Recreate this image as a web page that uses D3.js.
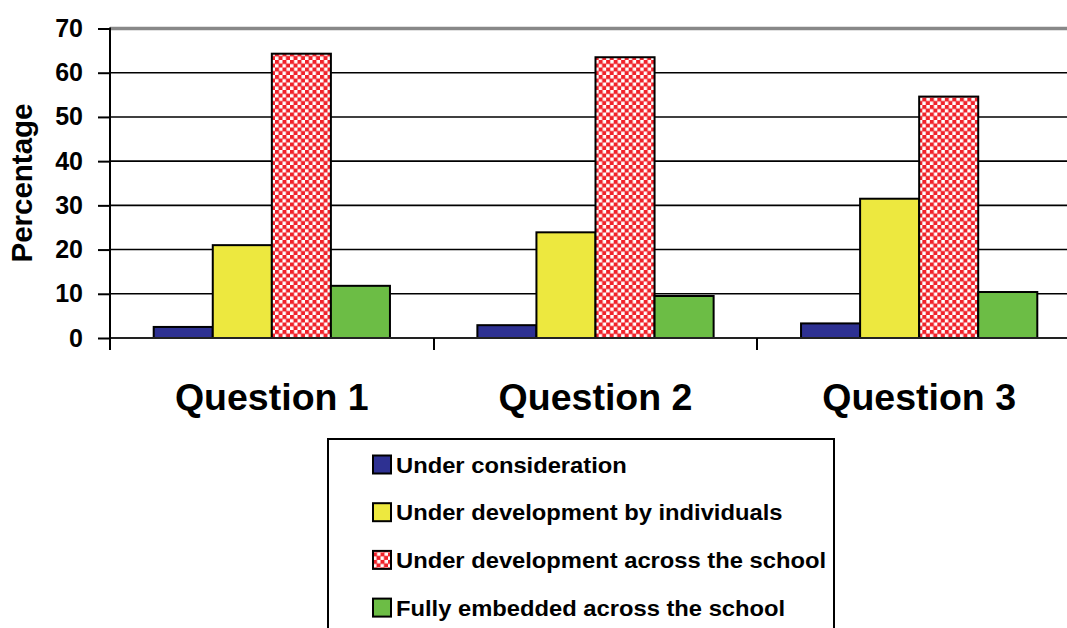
<!DOCTYPE html>
<html>
<head>
<meta charset="utf-8">
<script src="https://cdn.jsdelivr.net/npm/d3@7"></script>
<style>
  html, body { margin: 0; padding: 0; background: #fff; overflow: hidden; }
  svg { display: block; font-family: "Liberation Sans", Arial, sans-serif; }
</style>
</head>
<body>
<svg id="chart" width="1067" height="628"></svg>
<script>
// Survey responses, percentage per question
const categories = ["Question 1", "Question 2", "Question 3"];
const seriesNames = [
  "Under consideration",
  "Under development by individuals",
  "Under development across the school",
  "Fully embedded across the school"
];
const underConsideration = [2.5, 2.9, 3.3];
const underDevIndividuals = [21.0, 23.9, 31.5];
const underDevSchool = [64.3, 63.5, 54.6];
const fullyEmbedded = [11.8, 9.5, 10.4];
const yTicks = [0, 10, 20, 30, 40, 50, 60, 70];

const seriesValues = [underConsideration, underDevIndividuals, underDevSchool, fullyEmbedded];
const fills = ["#2e3192", "#ede83f", "url(#checker)", "#6cbd45"];

const svg = d3.select("#chart");

// Red/white checkerboard fill
const defs = svg.append("defs");
const cell = 3.75;
const pat = defs.append("pattern")
  .attr("id", "checker")
  .attr("patternUnits", "userSpaceOnUse")
  .attr("width", cell * 2).attr("height", cell * 2);
pat.append("rect").attr("width", cell * 2).attr("height", cell * 2).attr("fill", "#fff");
pat.append("rect").attr("x", -0.3).attr("y", -0.3).attr("width", cell + 0.6).attr("height", cell + 0.6).attr("fill", "#f0222a");
pat.append("rect").attr("x", cell - 0.3).attr("y", cell - 0.3).attr("width", cell + 0.6).attr("height", cell + 0.6).attr("fill", "#f0222a");

const plot = { left: 110, top: 28.5, bottom: 338, right: 1081 };

const x = d3.scaleBand().domain(categories).range([plot.left, plot.right]);
const inner = d3.scaleBand().domain(seriesNames).range([0, x.bandwidth()]).paddingOuter(0.74).paddingInner(0);
const y = d3.scaleLinear().domain([0, 70]).range([plot.bottom, plot.top]);

// Horizontal gridlines
svg.append("g").selectAll("line")
  .data(yTicks.filter(t => t > 0 && t < 70))
  .join("line")
  .attr("x1", plot.left).attr("x2", 1067)
  .attr("y1", d => y(d)).attr("y2", d => y(d))
  .attr("stroke", "#000").attr("stroke-width", 1.6);

// Top border of plot area
svg.append("line")
  .attr("x1", plot.left).attr("x2", 1067)
  .attr("y1", y(70)).attr("y2", y(70))
  .attr("stroke", "#888").attr("stroke-width", 3.5);

// Bars
const groups = svg.append("g").selectAll("g")
  .data(categories)
  .join("g")
  .attr("transform", d => `translate(${x(d)},0)`);

groups.selectAll("rect")
  .data((c, ci) => seriesNames.map((s, si) => ({ s, si, v: seriesValues[si][ci] })))
  .join("rect")
  .attr("x", d => inner(d.s))
  .attr("width", inner.bandwidth())
  .attr("y", d => y(d.v))
  .attr("height", d => y(0) - y(d.v))
  .attr("fill", d => fills[d.si])
  .attr("stroke", "#000")
  .attr("stroke-width", 2);

// Baseline
svg.append("line")
  .attr("x1", plot.left).attr("x2", 1067)
  .attr("y1", y(0)).attr("y2", y(0))
  .attr("stroke", "#222").attr("stroke-width", 2);

// Y axis
const yAxis = svg.append("g")
  .attr("transform", `translate(${plot.left},0)`)
  .call(d3.axisLeft(y).tickValues(yTicks).tickSize(12).tickPadding(15));
yAxis.select(".domain").remove();
yAxis.selectAll(".tick line").attr("stroke", "#000").attr("stroke-width", 2);
yAxis.selectAll("text")
  .attr("fill", "#000")
  .attr("font-size", 25)
  .attr("font-weight", "bold")
  .attr("font-family", "'Liberation Sans', Arial, sans-serif");
svg.append("line")
  .attr("x1", plot.left).attr("x2", plot.left)
  .attr("y1", plot.top - 1).attr("y2", 350)
  .attr("stroke", "#000").attr("stroke-width", 2);

// Category tick marks between groups
svg.append("g").selectAll("line")
  .data(categories.slice(1))
  .join("line")
  .attr("x1", d => Math.round(x(d))).attr("x2", d => Math.round(x(d)))
  .attr("y1", y(0)).attr("y2", 350)
  .attr("stroke", "#000").attr("stroke-width", 2);

// Category labels
svg.append("g").selectAll("text")
  .data(categories)
  .join("text")
  .attr("x", d => x(d) + x.bandwidth() / 2)
  .attr("y", 410)
  .attr("text-anchor", "middle")
  .attr("font-size", 37.5)
  .attr("font-weight", "bold")
  .attr("fill", "#000")
  .text(d => d);

// Y axis title
svg.append("text")
  .attr("transform", "translate(32,183) rotate(-90)")
  .attr("text-anchor", "middle")
  .attr("font-size", 29.5)
  .attr("font-weight", "bold")
  .attr("fill", "#000")
  .text("Percentage");

// Legend
const legend = svg.append("g");
legend.append("rect")
  .attr("x", 328).attr("y", 439)
  .attr("width", 506).attr("height", 200)
  .attr("fill", "#fff").attr("stroke", "#000").attr("stroke-width", 2);

const rows = legend.selectAll("g.item")
  .data(seriesNames)
  .join("g")
  .attr("class", "item")
  .attr("transform", (d, i) => `translate(373,${464.5 + i * 47.7})`);
rows.append("rect")
  .attr("x", 0).attr("y", -9)
  .attr("width", 18).attr("height", 18)
  .attr("fill", (d, i) => fills[i])
  .attr("stroke", "#000").attr("stroke-width", 2);
rows.append("text")
  .attr("transform", "translate(23,8) scale(1.08,1)")
  .attr("font-size", 22)
  .attr("font-weight", "bold")
  .attr("fill", "#000")
  .text(d => d);
</script>
</body>
</html>
